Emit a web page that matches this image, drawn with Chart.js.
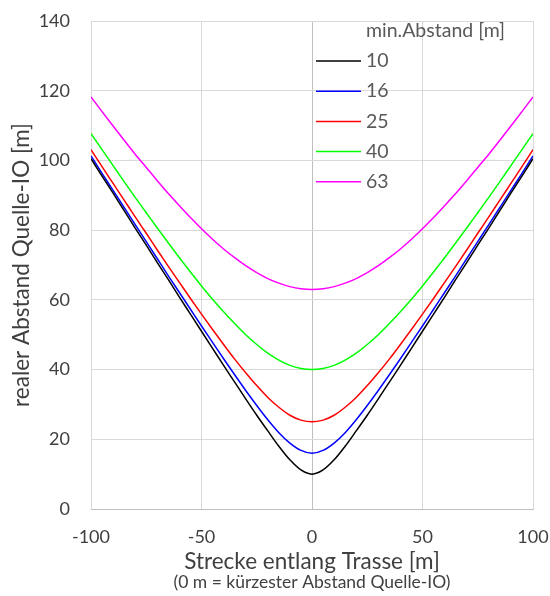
<!DOCTYPE html>
<html>
<head>
<meta charset="utf-8">
<script src="https://cdn.jsdelivr.net/npm/chart.js@4/dist/chart.umd.min.js"></script>
<style>
  html, body { margin: 0; padding: 0; background: #fff; }
  #wrap { width: 550px; height: 596px; }
</style>
</head>
<body>
<div id="wrap"><canvas id="chart" width="550" height="596"></canvas></div>
<script>
// Strecke entlang Trasse [m]
const strecke = [-100, -95, -90, -85, -80, -75, -70, -65, -60, -55, -50, -45, -40, -35, -30, -25, -20, -15, -10, -5,
  0, 5, 10, 15, 20, 25, 30, 35, 40, 45, 50, 55, 60, 65, 70, 75, 80, 85, 90, 95, 100];

// realer Abstand Quelle-IO [m]
const abstand10 = [100.5, 95.5, 90.6, 85.6, 80.6, 75.7, 70.7, 65.8, 60.8, 55.9, 51.0, 46.1, 41.2, 36.4, 31.6, 26.9, 22.4, 18.0, 14.1, 11.2,
  10.0, 11.2, 14.1, 18.0, 22.4, 26.9, 31.6, 36.4, 41.2, 46.1, 51.0, 55.9, 60.8, 65.8, 70.7, 75.7, 80.6, 85.6, 90.6, 95.5, 100.5];
const abstand16 = [101.3, 96.3, 91.4, 86.5, 81.6, 76.7, 71.8, 66.9, 62.1, 57.3, 52.5, 47.8, 43.1, 38.5, 34.0, 29.7, 25.6, 21.9, 18.9, 16.8,
  16.0, 16.8, 18.9, 21.9, 25.6, 29.7, 34.0, 38.5, 43.1, 47.8, 52.5, 57.3, 62.1, 66.9, 71.8, 76.7, 81.6, 86.5, 91.4, 96.3, 101.3];
const abstand25 = [103.1, 98.2, 93.4, 88.6, 83.8, 79.1, 74.3, 69.6, 65.0, 60.4, 55.9, 51.5, 47.2, 43.0, 39.1, 35.4, 32.0, 29.2, 26.9, 25.5,
  25.0, 25.5, 26.9, 29.2, 32.0, 35.4, 39.1, 43.0, 47.2, 51.5, 55.9, 60.4, 65.0, 69.6, 74.3, 79.1, 83.8, 88.6, 93.4, 98.2, 103.1];
const abstand40 = [107.7, 103.1, 98.5, 93.9, 89.4, 85.0, 80.6, 76.3, 72.1, 68.0, 64.0, 60.2, 56.6, 53.2, 50.0, 47.2, 44.7, 42.7, 41.2, 40.3,
  40.0, 40.3, 41.2, 42.7, 44.7, 47.2, 50.0, 53.2, 56.6, 60.2, 64.0, 68.0, 72.1, 76.3, 80.6, 85.0, 89.4, 93.9, 98.5, 103.1, 107.7];
const abstand63 = [118.2, 114.0, 109.9, 105.8, 101.8, 98.0, 94.2, 90.5, 87.0, 83.6, 80.4, 77.4, 74.6, 72.1, 69.8, 67.8, 66.1, 64.8, 63.8, 63.2,
  63.0, 63.2, 63.8, 64.8, 66.1, 67.8, 69.8, 72.1, 74.6, 77.4, 80.4, 83.6, 87.0, 90.5, 94.2, 98.0, 101.8, 105.8, 109.9, 114.0, 118.2];

const seriesLabels = ['10', '16', '25', '40', '63'];
const seriesData = [abstand10, abstand16, abstand25, abstand40, abstand63];
const seriesColors = ['#000000', '#0000FF', '#FF0000', '#00FF00', '#FF00FF'];

const FONT = 'Lato, "Open Sans", sans-serif';
const TEXT = '#404040';

const toPoints = (ys) => strecke.map((x, i) => ({ x: x, y: ys[i] }));

// legend inside plot + note under the x title
const extras = {
  id: 'extras',
  afterDraw(chart) {
    const ctx = chart.ctx;
    ctx.save();
    ctx.fillStyle = '#595959';
    ctx.font = '19.5px ' + FONT;
    ctx.textBaseline = 'middle';
    ctx.textAlign = 'left';
    ctx.fillText('min.Abstand [m]', 366, 31);
    chart.data.datasets.forEach((ds, i) => {
      const y = 61 + i * 30.2;
      ctx.strokeStyle = ds.borderColor;
      ctx.lineWidth = 1.5;
      ctx.beginPath();
      ctx.moveTo(316, y);
      ctx.lineTo(361, y);
      ctx.stroke();
      ctx.fillText(ds.label, 366, y);
    });
    ctx.fillStyle = TEXT;
    ctx.font = '17.5px ' + FONT;
    ctx.textAlign = 'center';
    ctx.fillText('(0 m = kürzester Abstand Quelle-IO)', 312, 582);
    ctx.restore();
  }
};

new Chart(document.getElementById('chart'), {
  type: 'line',
  data: {
    datasets: seriesData.map((ys, i) => ({
      label: seriesLabels[i],
      data: toPoints(ys),
      borderColor: seriesColors[i],
      borderWidth: 1.5,
      pointRadius: 0,
      cubicInterpolationMode: 'monotone',
      fill: false
    }))
  },
  options: {
    responsive: false,
    animation: false,
    layout: { padding: { top: 21, right: 17, left: 0, bottom: 0 } },
    plugins: {
      legend: { display: false },
      tooltip: { enabled: false }
    },
    scales: {
      x: {
        type: 'linear',
        min: -100,
        max: 100,
        ticks: { stepSize: 50, padding: 17, color: TEXT, font: { family: FONT, size: 18 } },
        grid: {
          drawTicks: false,
          color: (c) => c.tick && c.tick.value === 0 ? '#bfbfbf' : '#d9d9d9'
        },
        border: { color: '#bfbfbf' },
        title: {
          display: true,
          text: 'Strecke entlang Trasse [m]',
          color: TEXT,
          font: { family: FONT, size: 22.5 },
          padding: { top: 0, bottom: 21 }
        },
        afterFit(scale) {
          scale.height = 87;
          scale.paddingLeft = 0;
          scale.paddingRight = 0;
        }
      },
      y: {
        min: 0,
        max: 140,
        ticks: { stepSize: 20, padding: 21, color: TEXT, font: { family: FONT, size: 18 } },
        grid: {
          drawTicks: false,
          color: (c) => c.tick && c.tick.value === 0 ? '#bfbfbf' : '#d9d9d9'
        },
        border: { display: false },
        title: {
          display: true,
          text: 'realer Abstand Quelle-IO [m]',
          color: TEXT,
          font: { family: FONT, size: 22.5 },
          padding: { top: 8, bottom: 0 }
        },
        afterFit(scale) {
          scale.width = 91;
          scale.paddingTop = 0;
          scale.paddingBottom = 0;
        }
      }
    }
  },
  plugins: [extras]
});
</script>
</body>
</html>
